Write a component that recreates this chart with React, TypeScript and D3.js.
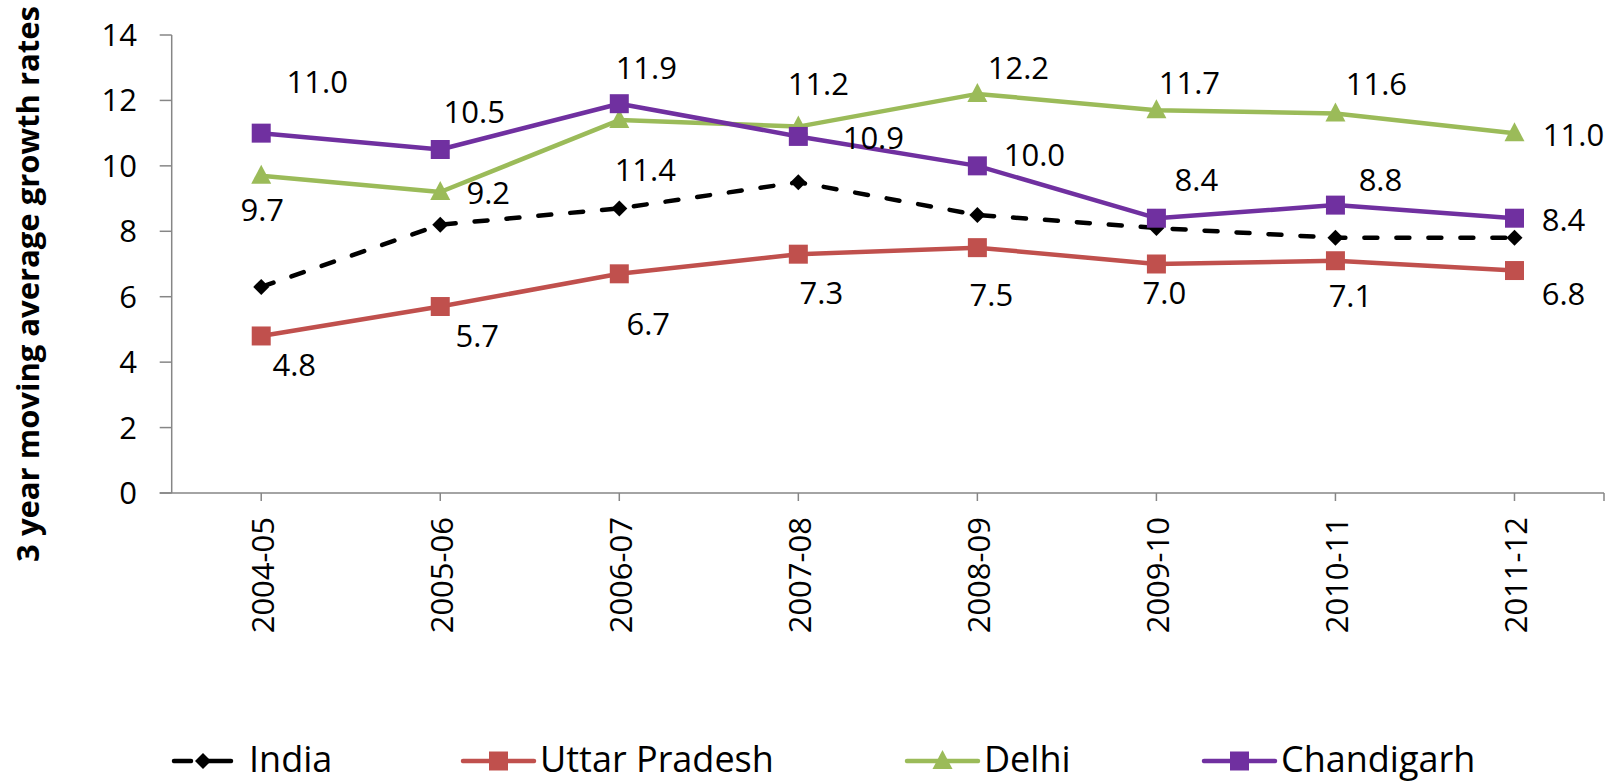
import React from "react";
import * as d3 from "d3";

// chart data
const categories = ["2004-05", "2005-06", "2006-07", "2007-08", "2008-09", "2009-10", "2010-11", "2011-12"];
const india = [6.3, 8.2, 8.7, 9.5, 8.5, 8.1, 7.8, 7.8];
const uttarPradesh = [4.8, 5.7, 6.7, 7.3, 7.5, 7.0, 7.1, 6.8];
const delhi = [9.7, 9.2, 11.4, 11.2, 12.2, 11.7, 11.6, 11.0];
const chandigarh = [11.0, 10.5, 11.9, 10.9, 10.0, 8.4, 8.8, 8.4];
const yTicks = [0, 2, 4, 6, 8, 10, 12, 14];

// data label nudges (px from the marker), as placed in the original
const upLabelOffsets = [[33, 29], [37, 29], [29, 50], [23, 39], [14, 47], [8, 29], [15, 35], [49, 23]];
const delhiLabelOffsets = [[1, 34], [48, 1], [26, 50], [20, -43], [41, -26], [33, -27], [41, -30], [59, 2]];
const chandLabelOffsets = [[56, -51], [34, -38], [27, -36], [75, 2], [57, -11], [40, -38], [45, -25], [49, 2]];

const FONT = "'Open Sans', 'Noto Sans', sans-serif";
const AXIS = "#868686";

const W = 1616, H = 782;
const margin = { left: 171.7, right: 12, top: 35, bottom: 289 };

type Series = {
  name: string;
  values: number[];
  color: string;
  marker: "diamond" | "square" | "triangle";
  dashed?: boolean;
  labels?: number[][];
};

const series: Series[] = [
  { name: "India", values: india, color: "#000000", marker: "diamond", dashed: true },
  { name: "Uttar Pradesh", values: uttarPradesh, color: "#C0504D", marker: "square", labels: upLabelOffsets },
  { name: "Delhi", values: delhi, color: "#9BBB59", marker: "triangle", labels: delhiLabelOffsets },
  { name: "Chandigarh", values: chandigarh, color: "#7030A0", marker: "square", labels: chandLabelOffsets },
];

const legendX = [172, 463, 907, 1204];

function markerPath(kind: Series["marker"]) {
  if (kind === "square") return d3.symbol(d3.symbolSquare, 19 * 19)()!;
  if (kind === "triangle") return "M0,-11L10,8L-10,8Z";
  return "M0,-8L8,0L0,8L-8,0Z";
}

export default function App() {
  const x = d3.scalePoint<string>().domain(categories).range([margin.left, W - margin.right]).padding(0.5);
  const y = d3.scaleLinear().domain([0, 14]).range([H - margin.bottom, margin.top]);
  const x0 = margin.left, x1 = W - margin.right;
  const y0 = y(0);

  return (
    <svg width={W} height={H} style={{ display: "block", position: "absolute", left: 0, top: 0, background: "#fff" }} fontFamily={FONT}>
      {/* y axis */}
      <line x1={x0} x2={x0} y1={y(14)} y2={y0} stroke={AXIS} strokeWidth={1.5} />
      {yTicks.map(t => (
        <g key={t}>
          <line x1={x0 - 12} x2={x0} y1={y(t)} y2={y(t)} stroke={AXIS} strokeWidth={1.5} />
          <text x={137} y={y(t) + 11} textAnchor="end" fontSize={31} fill="#000">{t}</text>
        </g>
      ))}
      {/* x axis */}
      <line x1={x0 - 12} x2={x1} y1={y0} y2={y0} stroke={AXIS} strokeWidth={1.5} />
      <line x1={x1} x2={x1} y1={y0} y2={y0 + 8} stroke={AXIS} strokeWidth={1.5} />
      {categories.map(c => (
        <g key={c}>
          <line x1={x(c)!} x2={x(c)!} y1={y0} y2={y0 + 8} stroke={AXIS} strokeWidth={1.5} />
          <text transform={`translate(${x(c)! + 13},${y0 + 24}) rotate(-90)`} textAnchor="end" fontSize={31} fill="#000">{c}</text>
        </g>
      ))}
      {/* y axis title */}
      <text transform={`translate(39,284) rotate(-90)`} textAnchor="middle" fontSize={31} fontWeight="bold" fill="#000">
        3 year moving average growth rates
      </text>

      {/* series */}
      {series.map(s => {
        const line = d3.line<number>().x((_, i) => x(categories[i])!).y(v => y(v));
        return (
          <g key={s.name}>
            <path d={line(s.values)!} fill="none" stroke={s.color} strokeWidth={4.5}
              strokeDasharray={s.dashed ? "13 19" : undefined} strokeLinecap={s.dashed ? "round" : "butt"} strokeLinejoin="round" />
            {s.values.map((v, i) => (
              <path key={i} d={markerPath(s.marker)} transform={`translate(${x(categories[i])},${y(v)})`} fill={s.color} />
            ))}
          </g>
        );
      })}
      {/* data labels */}
      {series.filter(s => s.labels).map(s => (
        <g key={"l" + s.name}>
          {s.values.map((v, i) => (
            <text key={i} x={x(categories[i])! + s.labels![i][0]} y={y(v) + s.labels![i][1] + 11}
              textAnchor="middle" fontSize={31} fill="#000">{v.toFixed(1)}</text>
          ))}
        </g>
      ))}

      {/* legend */}
      {series.map((s, i) => {
        const lx = legendX[i], ly = 761;
        return (
          <g key={"lg" + s.name}>
            {s.dashed ? (
              <>
                <line x1={lx + 2} x2={lx + 19} y1={ly} y2={ly} stroke={s.color} strokeWidth={4.5} strokeLinecap="round" />
                <line x1={lx + 36} x2={lx + 59} y1={ly} y2={ly} stroke={s.color} strokeWidth={4.5} strokeLinecap="round" />
                <path d={markerPath(s.marker)} transform={`translate(${lx + 31},${ly})`} fill={s.color} />
              </>
            ) : (
              <>
                <line x1={lx} x2={lx + 71} y1={ly} y2={ly} stroke={s.color} strokeWidth={4.5} strokeLinecap="round" />
                <path d={markerPath(s.marker)} transform={`translate(${lx + 35.5},${ly})`} fill={s.color} />
              </>
            )}
            <text x={lx + 77} y={772} fontSize={36} fill="#000">{s.name}</text>
          </g>
        );
      })}
    </svg>
  );
}
